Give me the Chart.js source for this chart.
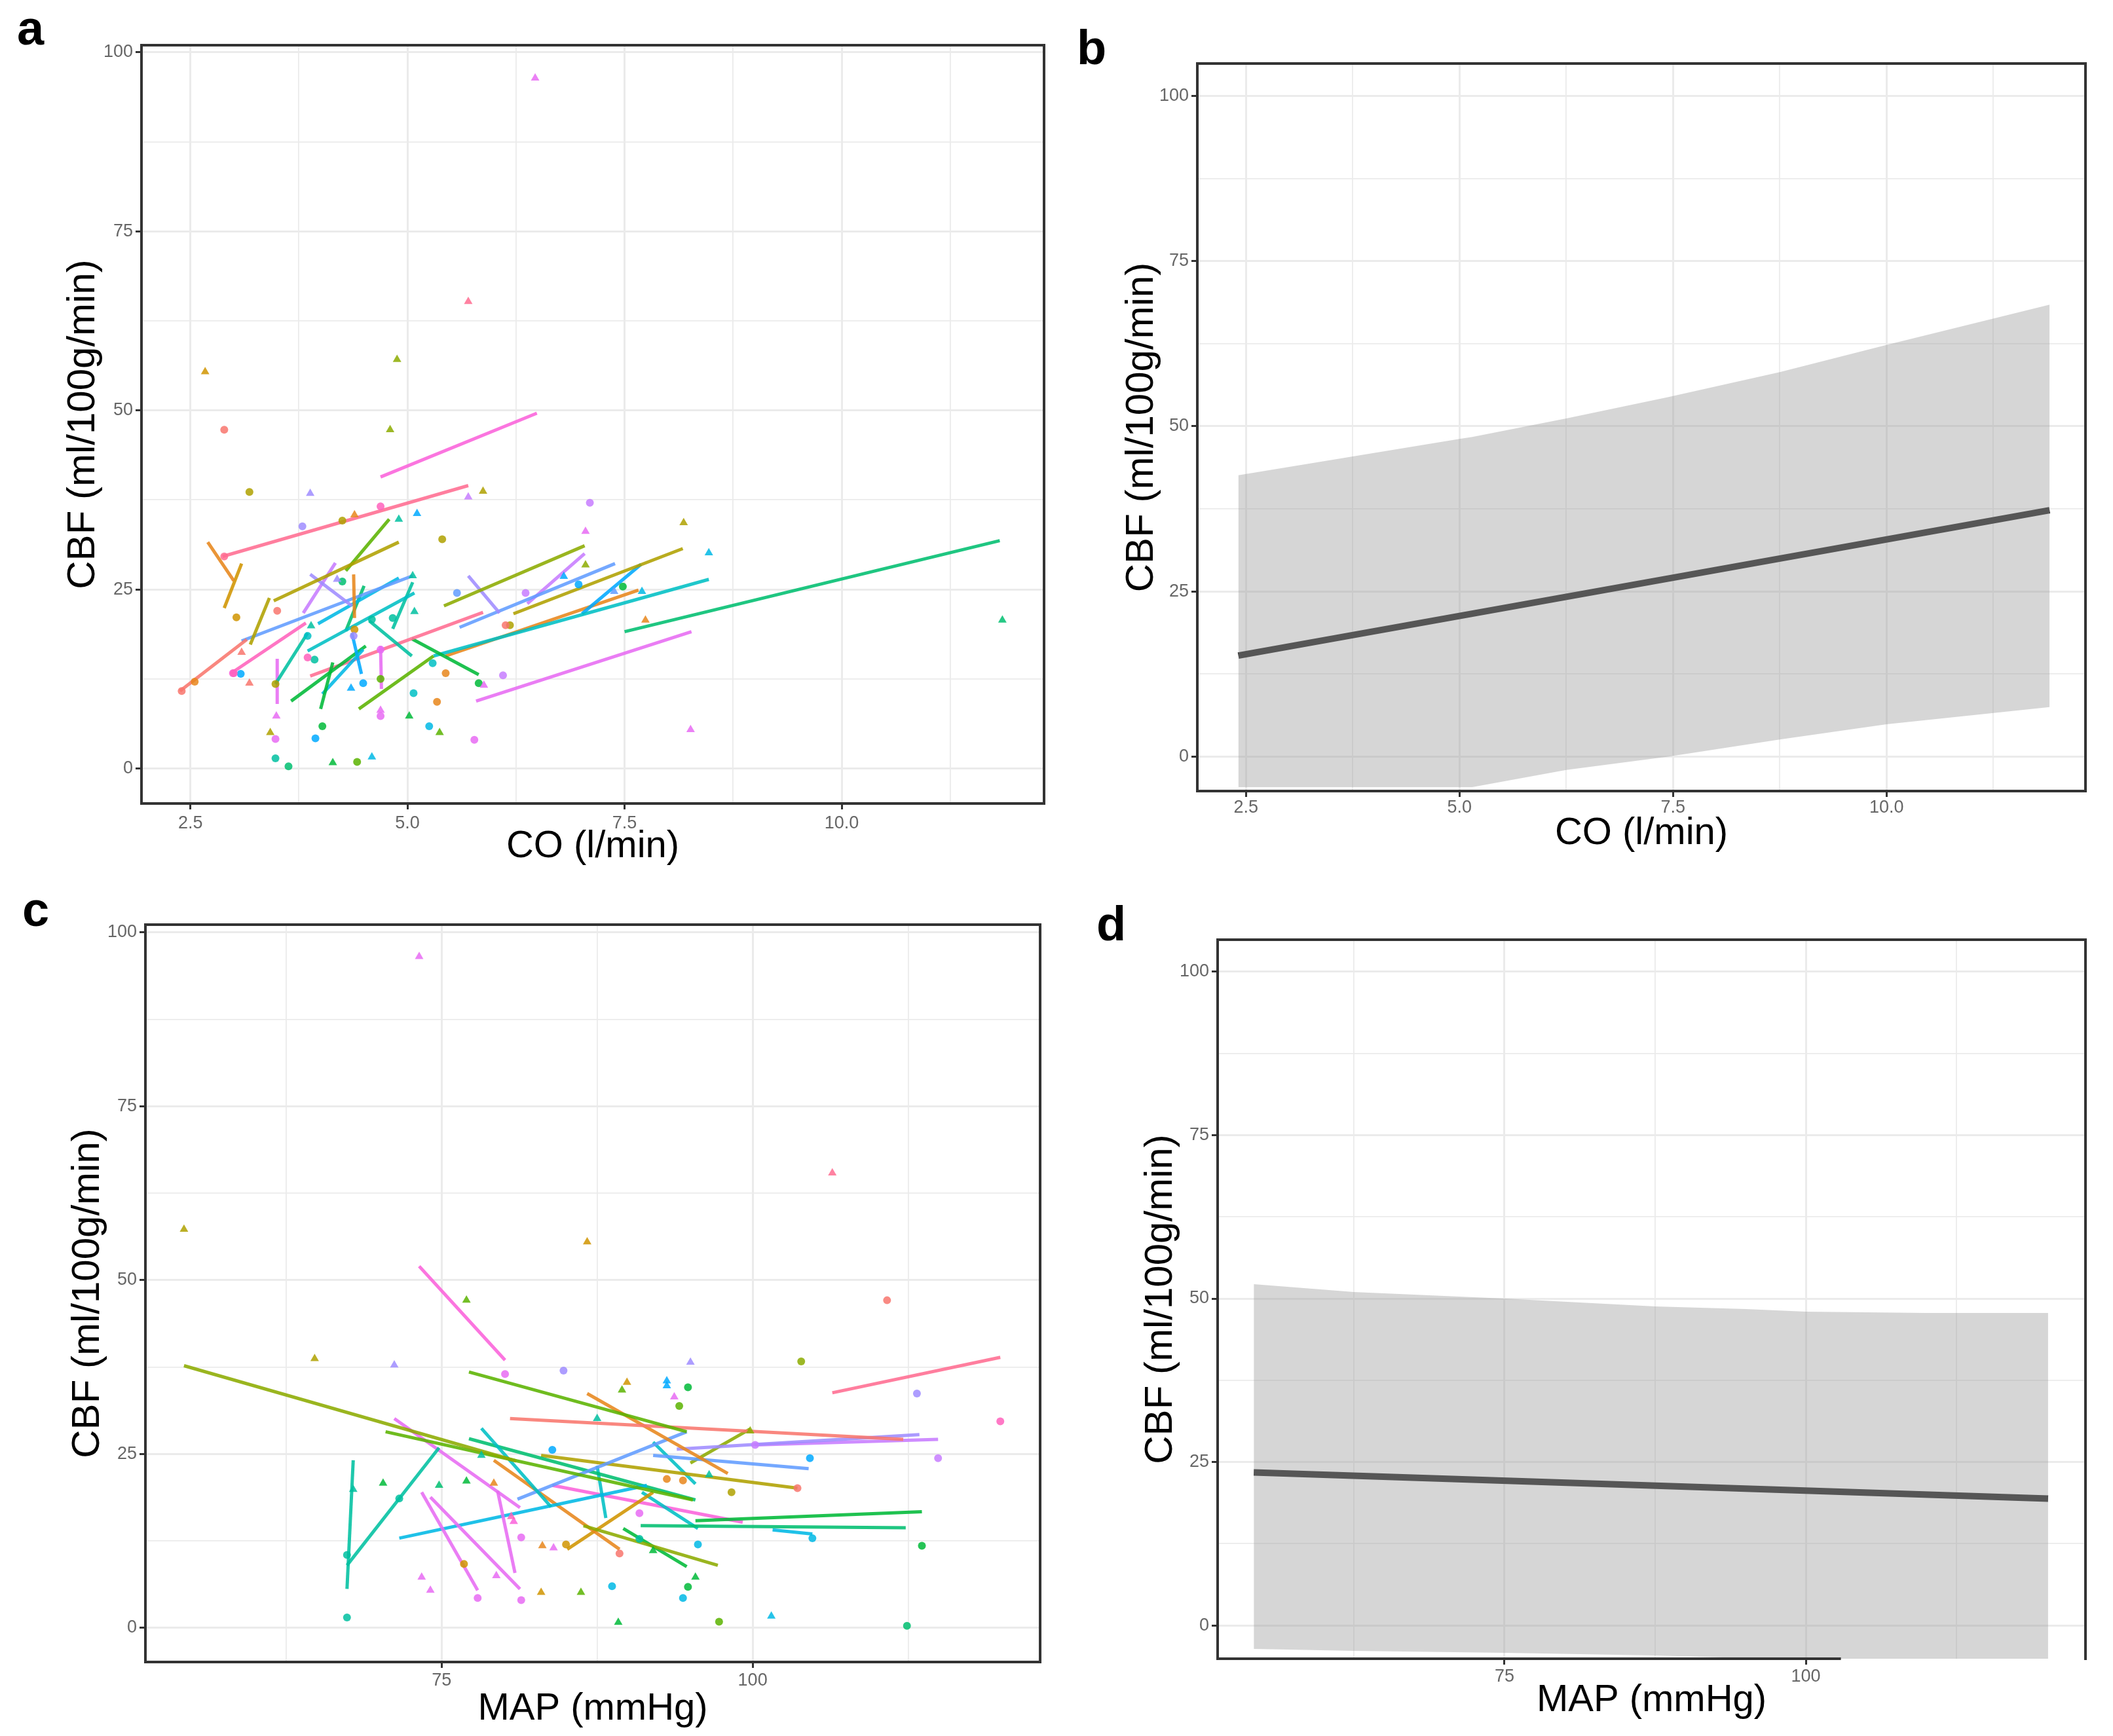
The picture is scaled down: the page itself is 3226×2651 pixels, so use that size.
<!DOCTYPE html>
<html>
<head>
<meta charset="utf-8">
<script src="https://cdn.jsdelivr.net/npm/chart.js@4.4.1/dist/chart.umd.min.js"></script>
<style>
  body { margin: 0; background: #fff; width: 3226px; height: 2651px; position: relative; overflow: hidden;
         font-family: "Liberation Sans", Arial, sans-serif; }
  canvas { position: absolute; }
  .tag { position: absolute; font-weight: bold; font-size: 74px; line-height: 1; color: #000; }
</style>
</head>
<body>
<div class="tag" style="left:26px;top:6px">a</div>
<div class="tag" style="left:1644px;top:36px">b</div>
<div class="tag" style="left:34px;top:1352px">c</div>
<div class="tag" style="left:1674px;top:1374px">d</div>
<canvas id="pa" width="1600" height="1316" style="left:40px;top:29px"></canvas>
<canvas id="pb" width="1566" height="1263" style="left:1660px;top:57px"></canvas>
<canvas id="pc" width="1600" height="1279" style="left:40px;top:1372px"></canvas>
<canvas id="pd" width="1566" height="1256" style="left:1660px;top:1395px"></canvas>
<script>
// subject colours (ggplot hue palette, slightly softened)
const hue = ['#F8766D','#E7861B','#D09400','#AFA100','#8CAB00','#5BB300','#00BA38','#00BE70','#00C0A0','#00BFC4',
             '#00B8E5','#00A9FF','#619CFF','#9F8CFF','#C77CFF','#E76BF3','#FA62DB','#FF62BC','#FF6C91'];

// tick positions / labels
const coTicks = [2.5, 3.75, 5, 6.25, 7.5, 8.75, 10, 11.25];
const coLabels = ['2.5', '', '5.0', '', '7.5', '', '10.0', ''];
const mapTicks = [62.5, 75, 87.5, 100, 112.5];
const mapLabels = ['', '75', '', '100', ''];
const cbfTicks = [0, 12.5, 25, 37.5, 50, 62.5, 75, 87.5, 100];
const cbfLabels = ['0', '', '25', '', '50', '', '75', '', '100'];

// panel a: per-subject fitted lines [subject, x1, y1, x2, y2]
const coLines = [
  [18, 2.87, 29.6, 5.70, 39.5], [16, 4.69, 40.7, 6.49, 49.6], [1, 2.70, 31.6, 3.00, 26.2],
  [2, 3.09, 28.6, 2.89, 22.4], [0, 2.38, 10.8, 3.15, 18.0], [3, 3.19, 17.3, 3.41, 23.8],
  [3, 3.46, 23.4, 4.90, 31.6], [5, 4.29, 27.6, 4.79, 34.8], [13, 3.88, 27.1, 4.36, 22.7],
  [14, 3.80, 21.7, 4.17, 28.7], [1, 4.38, 27.1, 4.39, 21.0], [12, 3.09, 17.8, 5.06, 26.9],
  [10, 3.97, 20.2, 4.90, 26.6], [9, 3.85, 16.4, 5.08, 24.5], [7, 4.29, 19.2, 4.50, 25.5],
  [8, 4.83, 19.5, 5.06, 26.0], [8, 4.56, 20.6, 5.05, 15.7], [6, 4.00, 8.3, 4.14, 14.8],
  [10, 4.02, 10.4, 4.49, 16.6], [11, 4.36, 18.9, 4.47, 13.2], [8, 3.48, 11.8, 3.85, 18.9],
  [6, 3.66, 9.4, 4.52, 17.1], [17, 2.97, 13.3, 3.83, 20.3], [15, 3.50, 15.3, 3.50, 9.0],
  [15, 4.69, 17.1, 4.70, 11.1], [18, 3.88, 12.9, 5.87, 21.8], [5, 4.44, 8.3, 5.30, 15.7],
  [6, 5.05, 18.1, 5.82, 13.1], [4, 5.42, 22.7, 7.04, 31.1], [13, 5.70, 26.9, 6.06, 21.7],
  [12, 5.60, 19.7, 7.39, 28.6], [14, 6.38, 23.0, 7.04, 30.0], [15, 5.79, 9.4, 8.27, 19.1],
  [9, 5.30, 15.7, 8.47, 26.4], [7, 7.50, 19.1, 11.82, 31.8], [3, 6.22, 21.6, 8.17, 30.7],
  [11, 7.01, 21.6, 7.69, 28.5], [1, 5.44, 15.7, 7.66, 24.9]
];
// panel a: observations [subject, shape (0 circle, 1 triangle), CO, CBF]
const coPoints = [
  [15,1,6.47,96.4], [18,1,5.70,65.2], [2,1,2.67,55.4], [4,1,4.88,57.1], [0,0,2.89,47.3], [4,1,4.80,47.3],
  [3,0,3.18,38.6], [13,1,3.88,38.4], [14,1,5.70,37.9], [3,1,5.87,38.7], [14,0,7.10,37.1], [13,0,3.79,33.8],
  [3,0,4.25,34.6], [1,1,4.39,35.4], [17,0,4.69,36.6], [8,1,4.90,34.8], [11,1,5.11,35.6], [3,0,5.40,32.0],
  [15,1,7.05,33.1], [4,1,7.05,28.4], [0,0,3.50,22.0], [2,0,3.03,21.1], [13,1,4.19,26.4], [7,0,4.25,26.1],
  [8,1,5.06,26.9], [8,1,5.08,21.9], [8,0,4.83,21.0], [8,0,4.59,20.8], [2,0,4.39,19.4], [12,0,5.57,24.5],
  [14,0,6.36,24.5], [11,1,6.80,26.8], [11,0,6.97,25.7], [0,0,6.13,20.0], [3,0,6.18,20.0], [8,1,3.89,19.9],
  [9,0,3.85,18.5], [13,0,4.38,18.5], [0,1,3.09,16.2], [17,0,3.85,15.5], [8,0,3.93,15.2], [16,0,2.99,13.3],
  [11,0,3.08,13.2], [0,1,3.18,11.9], [3,0,3.48,11.8], [15,0,4.69,16.6], [9,0,5.29,14.7], [6,0,5.82,11.9],
  [15,1,5.88,11.6], [14,0,6.10,13.0], [1,0,5.44,13.3], [11,1,4.35,11.2], [11,0,4.49,11.9], [5,0,4.69,12.5],
  [15,1,4.69,8.1], [15,0,4.69,7.3], [6,1,5.02,7.3], [9,0,5.07,10.5], [1,0,5.34,9.3], [15,1,3.49,7.3],
  [3,1,3.42,5.0], [15,0,3.48,4.1], [6,0,4.02,5.9], [11,0,3.94,4.2], [10,0,5.25,5.9], [5,1,5.37,5.0],
  [15,0,5.77,4.0], [8,0,3.48,1.4], [7,0,3.63,0.3], [6,1,4.14,0.8], [5,0,4.42,0.9], [10,1,4.59,1.6],
  [3,1,8.18,34.3], [10,1,8.47,30.1], [6,0,7.48,25.4], [12,1,7.38,24.7], [10,1,7.70,24.7], [1,1,7.74,20.7],
  [15,1,8.26,5.4], [7,1,11.85,20.7], [0,0,2.40,10.8], [1,0,2.55,12.1], [18,0,2.89,29.6], [17,0,3.00,13.3]
];

// panel b: population fit and confidence band
const coFitX = [2.41, 11.91];
const coFitY = [15.3, 37.3];
const coBandX = [2.41, 5.0, 5.15, 6.25, 7.44, 8.75, 10.0, 11.91];
const coBandLow = [-4.6, -4.6, -4.6, -2.0, 0.0, 2.6, 4.9, 7.5];
const coBandHigh = [42.6, 48.1, 48.4, 51.2, 54.4, 58.2, 62.3, 68.4];

// panel c: per-subject fitted lines [subject, x1, y1, x2, y2]
const mapLines = [
  [4, 54.3, 37.7, 81.0, 24.0], [5, 70.5, 28.2, 95.2, 18.4], [5, 77.2, 36.8, 94.7, 28.2],
  [0, 80.5, 30.1, 112.1, 27.1], [1, 86.7, 33.7, 98.0, 22.2], [18, 106.4, 33.8, 119.9, 38.9],
  [16, 73.2, 52.0, 80.1, 38.5], [8, 67.4, 5.6, 67.9, 24.1], [8, 67.4, 9.0, 74.8, 25.9],
  [15, 71.2, 30.1, 81.3, 17.3], [15, 73.4, 19.5, 77.9, 5.4], [15, 74.1, 18.8, 81.3, 5.6],
  [15, 79.5, 19.7, 80.9, 7.9], [9, 78.2, 28.7, 83.8, 17.4], [10, 71.6, 12.9, 91.5, 20.5],
  [12, 81.1, 18.5, 94.7, 28.2], [13, 93.9, 25.7, 113.4, 27.8], [14, 100.2, 26.3, 114.9, 27.1],
  [6, 95.4, 15.4, 113.6, 16.7], [7, 91.0, 14.7, 112.3, 14.4], [10, 101.6, 14.1, 104.8, 13.5],
  [12, 92.0, 24.8, 104.5, 22.9], [7, 77.2, 27.2, 95.4, 18.4], [4, 86.4, 14.7, 97.2, 9.0],
  [6, 89.6, 14.3, 94.7, 8.8], [1, 79.2, 24.1, 89.3, 11.3], [2, 85.1, 11.3, 92.0, 19.5],
  [3, 83.0, 24.8, 103.6, 20.1], [9, 87.5, 23.3, 88.2, 15.8], [9, 91.1, 19.5, 95.6, 14.3],
  [9, 92.0, 26.7, 95.4, 20.7], [4, 95.0, 23.7, 99.8, 28.6], [16, 83.9, 20.5, 99.2, 15.2]
];
// panel c: observations [subject, shape, MAP, CBF]
const mapPoints = [
  [15,1,73.2,96.5], [18,1,106.4,65.4], [3,1,54.3,57.3], [2,1,86.7,55.5], [5,1,77.0,47.1], [0,0,110.8,47.1],
  [3,1,64.8,38.7], [13,1,71.2,37.8], [15,0,80.1,36.5], [13,0,84.8,37.0], [4,0,103.9,38.3], [13,1,95.0,38.2],
  [2,1,89.9,35.3], [5,1,89.5,34.2], [11,1,93.1,35.5], [11,1,93.1,34.8], [6,0,94.8,34.6], [15,1,93.7,33.2],
  [5,0,94.1,31.9], [13,0,113.2,33.7], [17,0,119.9,29.7], [14,0,114.9,24.4], [11,0,104.6,24.4], [4,1,99.8,28.3],
  [8,1,87.5,30.1], [11,0,83.9,25.6], [14,0,100.2,26.3], [8,1,78.2,24.8], [10,0,95.6,12.0], [8,0,71.6,18.6],
  [6,1,70.3,20.8], [7,1,74.8,20.5], [6,1,77.0,21.1], [8,1,67.9,19.9], [1,1,79.2,20.8], [1,0,94.4,21.2],
  [1,0,93.1,21.4], [3,0,98.3,19.5], [0,0,103.6,20.1], [8,1,96.5,22.0], [17,1,80.6,16.0], [15,0,90.9,16.5],
  [16,1,80.8,15.3], [15,0,81.4,13.0], [0,0,89.3,10.7], [8,0,90.9,12.8], [1,1,83.1,11.8], [15,1,84.0,11.5],
  [2,0,85.0,12.0], [2,0,76.8,9.2], [8,0,67.4,10.5], [6,1,92.0,11.1], [6,0,113.6,11.8], [10,0,104.8,12.9],
  [15,1,73.4,7.3], [15,1,74.1,5.4], [15,0,77.9,4.3], [15,0,81.4,4.0], [15,1,79.4,7.5], [2,1,83.0,5.1],
  [5,1,86.2,5.1], [10,0,88.7,6.0], [6,1,95.4,7.3], [6,0,94.8,5.9], [10,0,94.4,4.3], [8,0,67.4,1.5],
  [6,1,89.2,0.8], [5,0,97.3,0.9], [10,1,101.5,1.7], [7,0,112.4,0.3]
];

// panel d: population fit and confidence band
const mapFitX = [54.2, 120.1];
const mapFitY = [23.4, 19.4];
const mapBandX = [54.2, 62.5, 75, 87.5, 95, 100, 110, 120.1];
const mapBandLow = [-3.6, -3.9, -4.2, -4.6, -5.0, -5.1, -5.1, -5.1];
const mapBandHigh = [52.2, 51.0, 50.0, 48.8, 48.4, 48.0, 47.8, 47.8];

const FONT = '"Liberation Sans", Arial, sans-serif';
const CBF_TITLE = 'CBF (ml/100g/min)';

// soften a hex colour (the reference marks look slightly washed out)
function soft(hex, a) {
  const n = parseInt(hex.slice(1), 16);
  return 'rgba(' + (n >> 16) + ',' + ((n >> 8) & 255) + ',' + (n & 255) + ',' + a + ')';
}

const framePlugin = {
  id: 'frame',
  afterDatasetsDraw(chart, args, opts) {
    const {ctx, chartArea: a, scales} = chart;
    const endX = opts.bottomEnd != null ? scales.x.getPixelForValue(opts.bottomEnd) : a.right;
    ctx.save();
    ctx.strokeStyle = '#333';
    ctx.lineWidth = 4;
    ctx.lineCap = 'square';
    ctx.beginPath();
    ctx.moveTo(endX, a.bottom);
    ctx.lineTo(a.left, a.bottom);
    ctx.lineTo(a.left, a.top);
    ctx.lineTo(a.right, a.top);
    ctx.lineTo(a.right, a.bottom);
    ctx.stroke();
    ctx.restore();
  }
};

function scatterSets(lines, points) {
  const sets = [];
  const groups = {};
  points.forEach(([s, shape, x, y]) => {
    const key = s + '_' + shape;
    if (!groups[key]) {
      groups[key] = {
        data: [], showLine: false,
        pointStyle: shape ? 'triangle' : 'circle',
        pointRadius: shape ? 7.5 : 6,
        backgroundColor: soft(hue[s], 0.85), borderColor: soft(hue[s], 0.85), borderWidth: 0
      };
      sets.push(groups[key]);
    }
    groups[key].data.push({x, y});
  });
  lines.forEach(([s, x1, y1, x2, y2]) => {
    sets.push({
      data: [{x: x1, y: y1}, {x: x2, y: y2}], showLine: true,
      borderColor: soft(hue[s], 0.88), borderWidth: 5, pointRadius: 0, fill: false
    });
  });
  return sets;
}

function fitSets(fx, fy, bx, lo, hi) {
  return [
    {data: bx.map((x, i) => ({x, y: lo[i]})), showLine: true, pointRadius: 0, borderWidth: 0, fill: false},
    {data: bx.map((x, i) => ({x, y: hi[i]})), showLine: true, pointRadius: 0, borderWidth: 0,
     fill: '-1', backgroundColor: 'rgba(153,153,153,0.4)'},
    {data: fx.map((x, i) => ({x, y: fy[i]})), showLine: true, pointRadius: 0, borderWidth: 10,
     borderColor: '#2b2b2b', fill: false}
  ];
}

function axis(ticks, labels, min, max, title, p) {
  const isX = p.axis === 'x';
  const major = (i) => labels[i] !== '';
  return {
    type: 'linear', min, max,
    afterBuildTicks: (sc) => { sc.ticks = ticks.map(v => ({value: v})); },
    afterFit: (sc) => { if (isX) sc.height = p.size; else sc.width = p.size; },
    ticks: {
      autoSkip: false, maxRotation: 0, padding: p.tickPad,
      color: '#666', font: {family: FONT, size: 27},
      callback: (v, i) => labels[i]
    },
    grid: {
      color: '#ebebeb',
      lineWidth: (c) => major(c.index) ? 3 : 1.8,
      tickColor: (c) => major(c.index) ? '#333' : 'rgba(0,0,0,0)',
      tickLength: 9, tickWidth: 3
    },
    border: {display: false},
    title: {
      display: true, text: title, color: '#000',
      font: {family: FONT, size: isX ? 58 : 60, lineHeight: 1.2},
      padding: isX ? {top: 0, bottom: p.titlePad} : {top: p.titlePad, bottom: 0}
    }
  };
}

function makeChart(id, datasets, scales, pad, frameOpts) {
  new Chart(document.getElementById(id), {
    type: 'scatter',
    data: {datasets},
    options: {
      responsive: false, devicePixelRatio: 1, animation: false,
      layout: {padding: {left: 0, top: pad.top, right: pad.right, bottom: 0}},
      plugins: {legend: {display: false}, tooltip: {enabled: false}, frame: frameOpts || {}},
      scales
    },
    plugins: [framePlugin]
  });
}

makeChart('pa', scatterSets(coLines, coPoints), {
  x: axis(coTicks, coLabels, 1.937, 12.33, 'CO (l/min)', {axis: 'x', size: 118, tickPad: 5, titlePad: 17}),
  y: axis(cbfTicks, cbfLabels, -4.9, 101.0, CBF_TITLE, {axis: 'y', size: 176, tickPad: 4, titlePad: 51})
}, {top: 40, right: 46});

makeChart('pb', fitSets(coFitX, coFitY, coBandX, coBandLow, coBandHigh), {
  x: axis(coTicks, coLabels, 1.93, 12.33, 'CO (l/min)', {axis: 'x', size: 112, tickPad: 0, titlePad: 12}),
  y: axis(cbfTicks, cbfLabels, -5.2, 104.9, CBF_TITLE, {axis: 'y', size: 168, tickPad: 4, titlePad: 47})
}, {top: 40, right: 42});

makeChart('pc', scatterSets(mapLines, mapPoints), {
  x: axis(mapTicks, mapLabels, 51.2, 123.1, 'MAP (mmHg)', {axis: 'x', size: 113, tickPad: 3, titlePad: 6}),
  y: axis(cbfTicks, cbfLabels, -4.9, 101.1, CBF_TITLE, {axis: 'y', size: 182, tickPad: 4, titlePad: 58})
}, {top: 40, right: 52});

makeChart('pd', fitSets(mapFitX, mapFitY, mapBandX, mapBandLow, mapBandHigh), {
  x: axis(mapTicks, mapLabels, 51.2, 123.2, 'MAP (mmHg)', {axis: 'x', size: 118, tickPad: 2, titlePad: 19}),
  y: axis(cbfTicks, cbfLabels, -5.1, 104.9, CBF_TITLE, {axis: 'y', size: 199, tickPad: 4, titlePad: 76})
}, {top: 40, right: 42}, {bottomEnd: 102.8});
</script>
</body>
</html>
